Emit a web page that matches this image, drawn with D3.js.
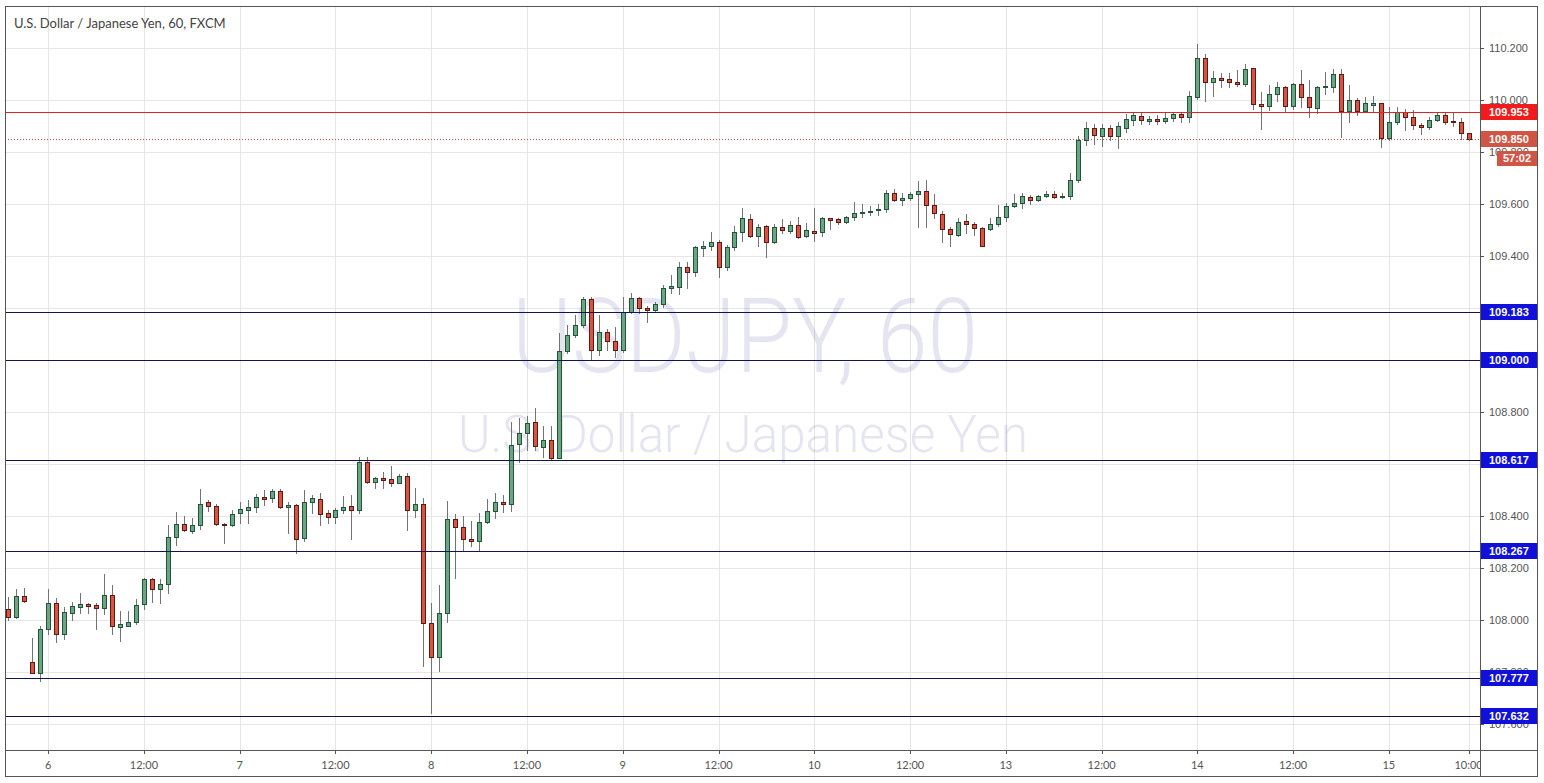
<!DOCTYPE html>
<html><head><meta charset="utf-8">
<script src="https://cdn.jsdelivr.net/npm/d3@7"></script>
<style>html,body{margin:0;padding:0;background:#fff;} svg{display:block}</style>
</head><body>
<svg id="chart" width="1544" height="783"></svg>
<script>
// bar offsets are hours counted from "6" 00:00 (weekend skipped)
const firstBar = -5;
const opens = [
108.041,108.010,108.092,107.838,107.795,
107.964,108.064,107.945,108.025,108.051,108.061,108.057,108.048,108.098,107.974,
107.978,107.993,108.060,108.156,108.118,108.137,108.318,108.368,108.343,108.364,
108.452,108.437,108.369,108.364,108.410,108.424,108.433,108.472,108.468,108.496,
108.433,108.441,108.316,108.452,108.464,108.410,108.395,108.422,108.437,108.422,
108.606,108.532,108.545,108.541,108.525,108.554,108.424,108.448,107.989,107.859,
108.028,108.387,108.359,108.310,108.302,108.375,108.419,108.452,108.445,108.676,
108.718,108.760,108.667,108.691,108.622,109.035,109.096,109.135,109.233,109.037,
109.107,109.072,109.037,109.186,109.237,109.200,109.192,109.214,109.276,109.282,
109.357,109.337,109.432,109.440,109.453,109.357,109.433,109.491,109.541,109.477,
109.515,109.455,109.513,109.497,109.519,109.478,109.496,109.491,109.545,109.541,
109.530,109.549,109.564,109.568,109.576,109.580,109.641,109.615,109.622,109.638,
109.651,109.595,109.560,109.503,109.481,109.536,109.522,109.507,109.503,109.522,
109.551,109.592,109.603,109.628,109.615,109.631,109.638,109.626,109.631,109.692,
109.846,109.892,109.862,109.892,109.862,109.892,109.923,109.938,109.919,109.927,
109.919,109.930,109.946,109.933,110.013,110.160,110.068,110.083,110.080,110.070,
110.060,110.122,109.985,109.978,110.022,110.049,109.978,110.062,110.010,109.968,
110.051,110.051,110.099,109.958,110.000,109.959,109.982,109.987,109.853,109.914,
109.955,109.936,109.904,109.895,109.923,109.942,109.920,109.917,109.872];
const highs = [
108.089,108.118,108.123,107.929,107.977,
108.118,108.083,108.051,108.070,108.102,108.066,108.066,108.175,108.133,108.034,
108.034,108.080,108.163,108.163,108.156,108.365,108.415,108.400,108.391,108.504,
108.461,108.445,108.374,108.423,108.455,108.461,108.483,108.500,108.504,108.502,
108.455,108.448,108.500,108.481,108.487,108.423,108.429,108.477,108.481,108.628,
108.628,108.551,108.568,108.592,108.560,108.564,108.506,108.468,108.066,108.134,
108.457,108.407,108.400,108.380,108.410,108.465,108.489,108.481,108.763,108.776,
108.785,108.817,108.747,108.747,109.103,109.135,109.173,109.243,109.241,109.173,
109.118,109.128,109.243,109.257,109.243,109.208,109.224,109.288,109.327,109.378,
109.378,109.438,109.458,109.491,109.462,109.442,109.517,109.583,109.562,109.523,
109.519,109.523,109.542,109.536,109.551,109.528,109.583,109.551,109.547,109.547,
109.554,109.607,109.600,109.592,109.599,109.654,109.658,109.643,109.645,109.690,
109.692,109.638,109.574,109.513,109.545,109.560,109.532,109.513,109.545,109.596,
109.603,109.638,109.641,109.635,109.635,109.651,109.651,109.643,109.718,109.862,
109.915,109.908,109.908,109.904,109.915,109.946,109.954,109.950,109.938,109.942,
109.954,109.951,109.955,110.036,110.215,110.177,110.113,110.103,110.103,110.115,
110.138,110.124,110.030,110.058,110.068,110.054,110.064,110.115,110.077,110.054,
110.107,110.118,110.118,110.058,110.007,110.010,110.015,109.990,109.974,109.972,
109.964,109.962,109.913,109.933,109.951,109.955,109.955,109.930,109.872];
const lows = [
108.000,108.006,108.069,107.795,107.766,
107.946,107.914,107.925,108.000,108.028,108.025,107.966,108.022,107.948,107.920,
107.978,107.984,108.041,108.069,108.064,108.102,108.288,108.342,108.336,108.350,
108.420,108.365,108.298,108.361,108.372,108.372,108.416,108.441,108.455,108.429,
108.333,108.256,108.305,108.410,108.365,108.374,108.374,108.413,108.313,108.413,
108.525,108.509,108.509,108.516,108.525,108.346,108.397,107.823,107.641,107.805,
107.993,108.160,108.269,108.284,108.269,108.372,108.391,108.416,108.420,108.609,
108.654,108.654,108.628,108.615,108.622,109.026,109.090,109.128,109.000,109.019,
109.038,109.013,109.032,109.180,109.182,109.147,109.186,109.205,109.259,109.253,
109.276,109.323,109.400,109.423,109.318,109.346,109.423,109.459,109.474,109.438,
109.395,109.451,109.487,109.487,109.468,109.474,109.459,109.478,109.504,109.522,
109.526,109.538,109.551,109.558,109.558,109.570,109.612,109.596,109.615,109.510,
109.510,109.545,109.453,109.438,109.477,109.487,109.481,109.438,109.500,109.515,
109.536,109.587,109.586,109.599,109.613,109.626,109.622,109.622,109.618,109.685,
109.827,109.831,109.823,109.846,109.815,109.877,109.904,109.908,109.908,109.908,
109.912,109.920,109.917,109.917,110.004,109.997,110.017,110.049,110.049,110.055,
110.055,109.965,109.887,109.962,109.997,109.955,109.964,109.974,109.933,109.949,
110.022,110.032,109.859,109.917,109.942,109.958,109.958,109.818,109.846,109.907,
109.885,109.887,109.869,109.887,109.920,109.907,109.900,109.849,109.846];
const closes = [
108.010,108.092,108.072,107.797,107.964,
108.064,107.945,108.029,108.055,108.061,108.055,108.048,108.098,107.977,107.984,
107.993,108.056,108.157,108.118,108.138,108.318,108.368,108.345,108.364,108.448,
108.437,108.368,108.366,108.407,108.427,108.433,108.472,108.466,108.496,108.433,
108.441,108.313,108.454,108.468,108.409,108.395,108.422,108.436,108.422,108.606,
108.532,108.545,108.537,108.528,108.554,108.424,108.448,107.989,107.859,108.025,
108.387,108.359,108.310,108.302,108.375,108.419,108.452,108.445,108.675,108.718,
108.757,108.670,108.691,108.622,109.035,109.096,109.135,109.233,109.037,109.107,
109.072,109.037,109.186,109.237,109.199,109.192,109.214,109.276,109.285,109.357,
109.337,109.433,109.440,109.453,109.357,109.433,109.491,109.545,109.477,109.510,
109.455,109.510,109.500,109.519,109.474,109.500,109.487,109.545,109.540,109.532,
109.549,109.564,109.568,109.572,109.580,109.641,109.615,109.623,109.638,109.651,
109.595,109.564,109.503,109.483,109.532,109.522,109.507,109.440,109.522,109.551,
109.592,109.603,109.631,109.615,109.631,109.638,109.626,109.631,109.692,109.846,
109.892,109.865,109.892,109.862,109.900,109.927,109.942,109.923,109.927,109.919,
109.931,109.946,109.933,110.015,110.160,110.068,110.083,110.078,110.070,110.060,
110.118,109.983,109.978,110.022,110.049,109.978,110.062,110.010,109.972,110.049,
110.054,110.099,109.958,110.000,109.959,109.987,109.987,109.853,109.914,109.955,
109.936,109.904,109.895,109.923,109.942,109.917,109.918,109.872,109.850];

const priceTicks = [107.6,107.8,108.0,108.2,108.4,108.6,108.8,109.0,109.2,109.4,109.6,109.8,110.0,110.2];
const timeTickBars = [0,12,24,36,48,60,72,84,96,108,120,132,144,156,168,178];
const timeTickLabels = ["6","12:00","7","12:00","8","12:00","9","12:00","10","12:00","13","12:00","14","12:00","15","10:00"];
const blueLevels = [109.183,109.000,108.617,108.267,107.777,107.632];
const redLevel = 109.953;
const lastPrice = 109.850;
const countdown = "57:02";
const titleText = "U.S. Dollar / Japanese Yen, 60, FXCM";
const watermarkSymbol = "USDJPY, 60";
const watermarkName = "U.S. Dollar / Japanese Yen";

const svg = d3.select("#chart");
const P = {left:5, top:6, right:1480, bottom:750, frameRight:1538, frameBottom:777};
const x = d3.scaleLinear().domain([0,168]).range([48.2, 48.2 + 168*7.98]);
const y = d3.scaleLinear().domain([107.6,110.2]).range([724,48]);
const fmt = d3.format(".3f");

const defs = svg.append("defs");
defs.append("clipPath").attr("id","plotClip").append("rect")
  .attr("x",P.left).attr("y",P.top).attr("width",P.right-P.left).attr("height",P.bottom-P.top);
defs.append("clipPath").attr("id","timeClip").append("rect")
  .attr("x",P.left).attr("y",P.bottom).attr("width",P.right-P.left).attr("height",P.frameBottom-P.bottom);

const plot = svg.append("g").attr("clip-path","url(#plotClip)");

// grid
plot.append("g").selectAll("line").data(priceTicks).join("line")
  .attr("x1",P.left).attr("x2",P.right)
  .attr("y1",d=>Math.round(y(d))+0.5).attr("y2",d=>Math.round(y(d))+0.5)
  .attr("stroke","#e6e6e6");
plot.append("g").selectAll("line").data(timeTickBars).join("line")
  .attr("y1",P.top).attr("y2",P.bottom)
  .attr("x1",d=>Math.round(x(d))+0.5).attr("x2",d=>Math.round(x(d))+0.5)
  .attr("stroke","#e6e6e6");

// watermark
plot.append("text").text(watermarkSymbol)
  .attr("x",745).attr("y",372).attr("text-anchor","middle")
  .attr("font-family","Roboto, 'Liberation Sans', sans-serif").attr("font-weight",300)
  .attr("font-size",104).attr("textLength",466).attr("lengthAdjust","spacingAndGlyphs")
  .attr("fill","rgba(67,70,150,0.14)");
plot.append("text").text(watermarkName)
  .attr("x",743).attr("y",452).attr("text-anchor","middle")
  .attr("font-family","Roboto, 'Liberation Sans', sans-serif").attr("font-weight",300)
  .attr("font-size",52).attr("textLength",570).attr("lengthAdjust","spacingAndGlyphs")
  .attr("fill","rgba(67,70,150,0.14)");

// candles
const bars = opens.map((o,k)=>({i:firstBar+k, o, h:highs[k], l:lows[k], c:closes[k]}));
const cg = plot.append("g");
cg.selectAll("line").data(bars).join("line")
  .attr("x1",d=>Math.round(x(d.i))+0.5).attr("x2",d=>Math.round(x(d.i))+0.5)
  .attr("y1",d=>Math.round(y(d.h))).attr("y2",d=>Math.round(y(d.l))+1)
  .attr("stroke","#737375");
cg.selectAll("rect").data(bars).join("rect")
  .attr("x",d=>Math.round(x(d.i))-1.5).attr("width",4)
  .attr("y",d=>Math.round(y(Math.max(d.o,d.c)))+0.5)
  .attr("height",d=>Math.max(1, Math.round(y(Math.min(d.o,d.c))) - Math.round(y(Math.max(d.o,d.c)))))
  .attr("fill",d=>d.c>=d.o?"#6ba583":"#d75442")
  .attr("stroke",d=>d.c>=d.o?"#225437":"#5b1a13");

// horizontal levels
plot.append("g").selectAll("line").data(blueLevels).join("line")
  .attr("x1",P.left).attr("x2",P.right)
  .attr("y1",d=>Math.round(y(d))+0.5).attr("y2",d=>Math.round(y(d))+0.5)
  .attr("stroke","#131350");
plot.append("line").attr("x1",P.left).attr("x2",P.right)
  .attr("y1",Math.round(y(redLevel))+0.5).attr("y2",Math.round(y(redLevel))+0.5)
  .attr("stroke","#e02424");
plot.append("line").attr("x1",P.left).attr("x2",P.right)
  .attr("y1",Math.round(y(lastPrice))+0.5).attr("y2",Math.round(y(lastPrice))+0.5)
  .attr("stroke","#b5524b").attr("stroke-dasharray","1,2");

// title
svg.append("text").text(titleText).attr("x",14).attr("y",28)
  .attr("font-family","Lato, 'Liberation Sans', sans-serif").attr("font-size",13)
  .attr("fill","#434343");

// price axis: tick labels that a level label fully covers are not drawn
const allLabels = blueLevels.concat([redLevel, lastPrice]);
const visibleTicks = priceTicks.filter(t => !allLabels.some(v => Math.abs(y(v)-y(t)) < 5.5));
const pa = svg.append("g");
pa.selectAll("line").data(priceTicks).join("line")
  .attr("x1",P.right).attr("x2",P.right+4)
  .attr("y1",d=>Math.round(y(d))+0.5).attr("y2",d=>Math.round(y(d))+0.5)
  .attr("stroke","#555");
pa.selectAll("text").data(visibleTicks).join("text")
  .attr("x",1489).attr("y",d=>y(d)).attr("dy","0.35em")
  .attr("font-family","'Liberation Sans', Arial, sans-serif").attr("font-size",11)
  .attr("fill","#555").text(d=>fmt(d));

function priceLabel(v, fill){
  const yy = Math.round(y(v));
  pa.append("rect").attr("x",P.right+1).attr("y",yy-8).attr("width",P.frameRight-P.right-1).attr("height",16).attr("fill",fill);
  pa.append("text").attr("x",1489).attr("y",yy).attr("dy","0.35em")
    .attr("font-family","'Liberation Sans', Arial, sans-serif").attr("font-size",11).attr("font-weight","bold")
    .attr("fill","#fff").text(fmt(v));
}
blueLevels.forEach(v=>priceLabel(v,"#1010d8"));
priceLabel(redLevel,"#f21b1b");
priceLabel(lastPrice,"#d05545");
{
  const yy = Math.round(y(lastPrice));
  pa.append("rect").attr("x",1497).attr("y",yy+12).attr("width",P.frameRight-1497).attr("height",15).attr("fill","#d05545");
  pa.append("text").attr("x",1517).attr("y",yy+19.5).attr("dy","0.35em").attr("text-anchor","middle")
    .attr("font-family","'Liberation Sans', Arial, sans-serif").attr("font-size",11).attr("font-weight","bold")
    .attr("fill","#fff").text(countdown);
}

// time axis
const ta = svg.append("g").attr("clip-path","url(#timeClip)");
ta.selectAll("line").data(timeTickBars).join("line")
  .attr("x1",d=>Math.round(x(d))+0.5).attr("x2",d=>Math.round(x(d))+0.5)
  .attr("y1",P.bottom).attr("y2",P.bottom+4).attr("stroke","#555");
ta.selectAll("text").data(timeTickBars).join("text")
  .attr("x",d=>x(d)).attr("y",765).attr("dy","0.35em").attr("text-anchor","middle")
  .attr("font-family","Lato, 'Liberation Sans', sans-serif").attr("font-size",11)
  .attr("fill","#555").text((d,k)=>timeTickLabels[k]);

// frame
svg.append("rect").attr("x",P.left+0.5).attr("y",P.top+0.5)
  .attr("width",P.frameRight-P.left-1).attr("height",P.frameBottom-P.top-1)
  .attr("fill","none").attr("stroke","#555");
svg.append("line").attr("x1",P.right+0.5).attr("x2",P.right+0.5).attr("y1",P.top).attr("y2",P.frameBottom).attr("stroke","#555");
svg.append("line").attr("x1",P.left).attr("x2",P.frameRight).attr("y1",P.bottom+0.5).attr("y2",P.bottom+0.5).attr("stroke","#555");
</script>
</body></html>
